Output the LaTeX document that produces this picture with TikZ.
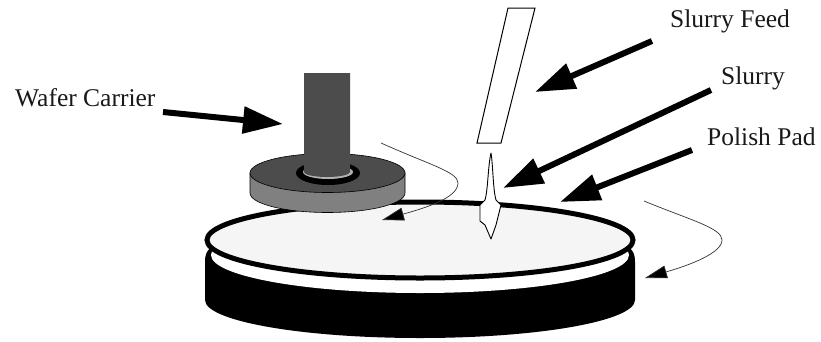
\documentclass[tikz,border=0pt]{standalone}
\usepackage{fontspec}
\setmainfont{Liberation Serif}
\usetikzlibrary{arrows.meta}
\tikzset{
  bigarrow/.style={line width=6pt,-{Triangle[length=40pt,width=26pt]}},
  thinarrow/.style={line width=0.7pt,draw=black!80,-{Triangle[length=22pt,width=13pt,fill=black]}},
  label/.style={font=\fontsize{25.5}{28}\selectfont,inner sep=0pt,anchor=west,text=black!90}
}
\begin{document}
\begin{tikzpicture}[x=1pt,y=-1pt]
\useasboundingbox (0,0) rectangle (821,341);
\fill[white] (0,0) rectangle (821,341);
% pad base
\fill[black] (205,262) .. controls (205,254) and (207,250) .. (212,247) -- (628,247) .. controls (633,250) and (635,254) .. (635,262) -- (635,300) arc[start angle=0,end angle=180,x radius=215pt,y radius=-38pt] -- cycle;
\fill[white] (420,255) ellipse[x radius=209pt,y radius=38pt];
\draw[line width=5pt,fill=black!4] (420,240) ellipse[x radius=213pt,y radius=38pt];
% carrier
\draw[line width=0.6pt,fill=black!50] (250,173) -- (250,193) arc[start angle=180,end angle=0,x radius=77.5pt,y radius=-19.5pt] -- (405,173) -- cycle;
\draw[line width=0.6pt,fill=black!70] (327.5,173) ellipse[x radius=77.5pt,y radius=19.5pt];
\fill[black] (328,173) ellipse[x radius=32pt,y radius=12pt];
\fill[black!30] (328,172) ellipse[x radius=25pt,y radius=7pt];
\fill[black!70] (304,73) -- (350,73) -- (350,172) arc[start angle=0,end angle=180,x radius=23pt,y radius=-5pt] -- cycle;
% slurry feed tube and drop
\draw[line width=1pt,fill=white] (508,8) -- (535,8) -- (501,143) -- (477,143) -- cycle;
\draw[line width=0.9pt,fill=white,line join=round] (491,153) .. controls (488,165) and (488,190) .. (485,200) -- (480,205) -- (480,221) -- (485,225) -- (491,239) -- (496,225) -- (501,205) -- (496,200) .. controls (493,190) and (493,165) .. (491,153) -- cycle;
% labels
\node[label] (lwafer) at (15,98) {Wafer Carrier};
\node[label] (lfeed) at (670,21) {Slurry Feed};
\node[label] (lslurry) at (721,78) {Slurry};
\node[label] (lpad) at (707,137) {Polish Pad};
% arrows
\coordinate (a1s) at (163,112); \coordinate (a1e) at (283,124);
\coordinate (a2s) at (652,41); \coordinate (a2e) at (535,92);
\coordinate (a3s) at (711,90); \coordinate (a3e) at (503,188);
\coordinate (a4s) at (692,150); \coordinate (a4e) at (560,202);
\draw[bigarrow] (a1s) -- (a1e);
\draw[bigarrow] (a2s) -- (a2e);
\draw[bigarrow] (a3s) -- (a3e);
\draw[bigarrow] (a4s) -- (a4e);
\coordinate (r1s) at (381,143); \coordinate (r1e) at (382,220);
\coordinate (r2s) at (644,201); \coordinate (r2e) at (645,278);
\draw[thinarrow] (r1s) .. controls (430,165) and (458,172) .. (458,183) .. controls (458,198) and (425,208) .. (r1e);
\draw[thinarrow] (r2s) .. controls (690,220) and (722,228) .. (722,240) .. controls (722,253) and (690,265) .. (r2e);
\end{tikzpicture}
\end{document}
